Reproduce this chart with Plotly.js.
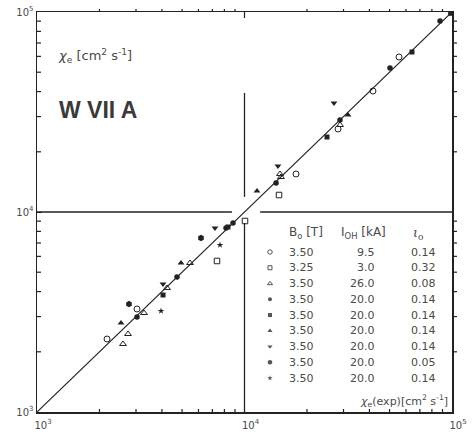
<!DOCTYPE html>
<html>
<head>
<meta charset="utf-8">
<script src="https://cdn.plot.ly/plotly-3.0.1.min.js"></script>
<style>
  html, body { margin: 0; padding: 0; background: #fff; }
  #chart { width: 472px; height: 436px; }
</style>
</head>
<body>
<div id="chart"></div>
<script>
// Electron heat diffusivity chi_e: transport-code value vs. experimental value (W VII A)
const seriesB0  = ['3.50', '3.25', '3.50', '3.50', '3.50', '3.50', '3.50', '3.50', '3.50'];
const seriesIOH = ['9.5', '3.0', '26.0', '20.0', '20.0', '20.0', '20.0', '20.0', '20.0'];
const seriesIota = ['0.14', '0.32', '0.08', '0.14', '0.14', '0.14', '0.14', '0.05', '0.14'];
const seriesSymbols = ['circle-open', 'square-open', 'triangle-up-open', 'circle', 'square',
                       'triangle-up', 'triangle-down', 'hexagon', 'star'];
const seriesSizes = [6, 5.5, 6, 5.5, 5, 6, 6, 6.5, 5];

// experimental chi_e (x) and computed chi_e (y), cm^2/s
const s1x = [2175, 3034, 17708, 28230, 41600, 55550];
const s1y = [2317, 3273, 15488, 26000, 40270, 59570];
const s2x = [7371, 10056, 14664];
const s2y = [5689, 9016, 12162];
const s3x = [2746, 2597, 3280, 4232, 5461, 14826, 14990, 28860];
const s3y = [2455, 2188, 3126, 4169, 5559, 15488, 14962, 27230];
const s4x = [3034, 4728, 8144, 8803, 14190, 28860, 50250, 87550];
const s4y = [2985, 4732, 8318, 8810, 13964, 28840, 52480, 90160];
const s5x = [4049, 8326, 24980, 64150, 98500];
const s5y = [3846, 8414, 23714, 63100, 98500];
const s6x = [2540, 4943, 11485, 31540];
const s6y = [2786, 5559, 12735, 30550];
const s7x = [4049, 7206, 14494, 26990];
const s7y = [4365, 8318, 16982, 35080];
const s8x = [2775, 6170];
const s8y = [3467, 7413];
const s9x = [3960, 7621];
const s9y = [3199, 6839];

const seriesX = [s1x, s2x, s3x, s4x, s5x, s6x, s7x, s8x, s9x];
const seriesY = [s1y, s2y, s3y, s4y, s5y, s6y, s7y, s8y, s9y];

const axisRange = [1e3, 1e5];
const tickVals = [1e3, 1e4, 1e5];
const tickText = ['10<sup>3</sup>', '10<sup>4</sup>', '10<sup>5</sup>'];
const minorVals = [2e3, 3e3, 4e3, 5e3, 6e3, 7e3, 8e3, 9e3, 2e4, 3e4, 4e4, 5e4, 6e4, 7e4, 8e4, 9e4];

const INK = '#222';
const TEXT = '#4a4a4a';

const traces = [];

// line of equality chi_e(calc) = chi_e(exp)
traces.push({
  x: axisRange, y: axisRange, mode: 'lines', type: 'scatter',
  line: { color: INK, width: 1.2 }, hoverinfo: 'skip', showlegend: false
});

// reference cross at 10^4, interrupted around the data cluster
traces.push({
  x: [1e3, 8700, null, 11900, 1e5, null, 1e4, 1e4, null, 1e4, 1e4],
  y: [1e4, 1e4, null, 1e4, 1e4, null, 1e3, 8800, null, 11900, 39400],
  mode: 'lines', type: 'scatter',
  line: { color: INK, width: 1.3 }, hoverinfo: 'skip', showlegend: false
});

function markerStyle(i, size, color) {
  const open = seriesSymbols[i].indexOf('open') >= 0;
  return {
    symbol: seriesSymbols[i], size: size, color: color,
    line: { color: color, width: open ? 1 : 0 }
  };
}

for (let i = 0; i < seriesX.length; i++) {
  traces.push({
    x: seriesX[i], y: seriesY[i], mode: 'markers', type: 'scatter', showlegend: false,
    marker: markerStyle(i, seriesSizes[i], INK)
  });
}

// key table: row placement as fractions of the plot area
const rowTop = 0.400, rowStep = 0.0394, headerY = 0.4475;
const colSym = 0.5614, colB0 = 0.602, colIOHRight = 0.820, colIota = 0.896;
const keyY = seriesSymbols.map((_, i) => rowTop - i * rowStep);
// fraction of the plot area -> value on the two-decade log axes
const fracToVal = f => Math.pow(10, 3 + 2 * f);

for (let i = 0; i < seriesSymbols.length; i++) {
  traces.push({
    x: [fracToVal(colSym)], y: [fracToVal(keyY[i])], type: 'scatter', mode: 'markers',
    showlegend: false, hoverinfo: 'skip',
    marker: markerStyle(i, Math.max(4, seriesSizes[i] - 1.5), '#555')
  });
}

// minor tick marks on the frame: inward on bottom/left, outward on top/right
const tickLine = { color: INK, width: 1.2 };
const shapes = [];
minorVals.forEach(v => {
  shapes.push({ type: 'line', xref: 'x', yref: 'paper', x0: v, x1: v, y0: 0, y1: 0.0075, line: tickLine });
  shapes.push({ type: 'line', xref: 'x', yref: 'paper', x0: v, x1: v, y0: 1, y1: 1.0075, line: tickLine });
  shapes.push({ type: 'line', xref: 'paper', yref: 'y', x0: 0, x1: 0.0096, y0: v, y1: v, line: tickLine });
  shapes.push({ type: 'line', xref: 'paper', yref: 'y', x0: 1, x1: 1.012, y0: v, y1: v, line: tickLine });
});
// decade tick hanging from the top frame
shapes.push({ type: 'line', xref: 'x', yref: 'paper', x0: tickVals[1], x1: tickVals[1], y0: 1, y1: 0.985, line: tickLine });

const tableFont = { family: 'DejaVu Sans', size: 11, color: TEXT };
const annotations = [];
for (let i = 0; i < seriesSymbols.length; i++) {
  annotations.push({ xref: 'paper', yref: 'paper', x: colB0, y: keyY[i], xanchor: 'left', yanchor: 'middle',
    text: seriesB0[i], showarrow: false, font: tableFont });
  annotations.push({ xref: 'paper', yref: 'paper', x: colIOHRight, y: keyY[i], xanchor: 'right', yanchor: 'middle',
    text: seriesIOH[i], showarrow: false, font: tableFont });
  annotations.push({ xref: 'paper', yref: 'paper', x: colIota, y: keyY[i], xanchor: 'left', yanchor: 'middle',
    text: seriesIota[i], showarrow: false, font: tableFont });
}
const headFont = { family: 'DejaVu Sans', size: 12, color: TEXT };
annotations.push(
  { xref: 'paper', yref: 'paper', x: colB0, y: headerY, xanchor: 'left', yanchor: 'middle',
    text: 'B<sub>o</sub> [T]', showarrow: false, font: headFont },
  { xref: 'paper', yref: 'paper', x: 0.728, y: headerY, xanchor: 'left', yanchor: 'middle',
    text: 'I<sub>OH</sub> [kA]', showarrow: false, font: headFont },
  { xref: 'paper', yref: 'paper', x: 0.902, y: headerY, xanchor: 'left', yanchor: 'middle',
    text: '<i>ι</i><sub>o</sub>', showarrow: false, font: { family: 'DejaVu Serif', size: 13, color: TEXT } },
  { xref: 'paper', yref: 'paper', x: 0.045, y: 0.89, xanchor: 'left', yanchor: 'middle',
    text: '<i>χ</i><sub>e</sub> [cm<sup>2</sup> s<sup>-1</sup>]', showarrow: false,
    font: { family: 'DejaVu Sans', size: 13, color: TEXT } },
  { xref: 'paper', yref: 'paper', x: 0.048, y: 0.755, xanchor: 'left', yanchor: 'middle',
    text: '<b>W VII A</b>', showarrow: false,
    font: { family: 'Liberation Sans', size: 23, color: '#3a3a3a' } },
  { xref: 'paper', yref: 'paper', x: 0.995, y: 0.028, xanchor: 'right', yanchor: 'middle',
    text: '<i>χ</i><sub>e</sub>(exp)[cm<sup>2</sup> s<sup>-1</sup>]', showarrow: false,
    font: { family: 'DejaVu Sans', size: 11, color: TEXT } }
);

const tickFont = { family: 'DejaVu Sans', size: 10, color: TEXT };
const base = {
  type: 'log', range: [3, 5], showgrid: false, zeroline: false,
  showline: true, mirror: true, linecolor: INK, linewidth: 1.5,
  tickmode: 'array', tickvals: tickVals, ticktext: tickText,
  ticks: 'inside', ticklen: 5, tickcolor: INK, tickfont: tickFont
};

const layout = {
  width: 472, height: 436,
  margin: { l: 37, r: 20, t: 12, b: 24, pad: 0 },
  paper_bgcolor: '#fff', plot_bgcolor: '#fff',
  showlegend: false,
  xaxis: Object.assign({}, base, { ticklabelshift: 6, ticklabelstandoff: 3 }),
  yaxis: Object.assign({}, base),
  shapes: shapes,
  annotations: annotations
};

Plotly.newPlot('chart', traces, layout, { staticPlot: true });
</script>
</body>
</html>
